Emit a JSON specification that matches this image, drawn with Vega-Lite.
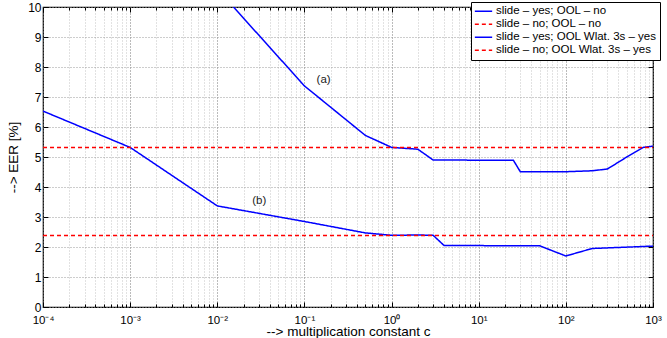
{
  "$schema": "https://vega.github.io/schema/vega-lite/v6.json",
  "width": 610,
  "height": 300,
  "autosize": {"type": "none"},
  "padding": {"left": 43, "top": 7, "right": 14, "bottom": 31},
  "background": "white",
  "config": {
    "view": {"stroke": "black", "strokeWidth": 1.2},
    "font": "Liberation Sans",
    "axis": {"labelFont": "Liberation Sans", "titleFont": "Liberation Sans", "labelColor": "black", "titleColor": "black", "titleFontWeight": "normal", "domain": false, "tickColor": "black", "labelFlush": false, "labelOverlap": false}
  },
  "datasets": {
    "lines": [
      {"series": "slide – yes; OOL – no", "c": 0.01, "eer": 10.6},
      {"series": "slide – yes; OOL – no", "c": 0.1, "eer": 7.37},
      {"series": "slide – yes; OOL – no", "c": 0.5, "eer": 5.72},
      {"series": "slide – yes; OOL – no", "c": 1, "eer": 5.32},
      {"series": "slide – yes; OOL – no", "c": 2, "eer": 5.26},
      {"series": "slide – yes; OOL – no", "c": 3, "eer": 4.9},
      {"series": "slide – yes; OOL – no", "c": 25, "eer": 4.89},
      {"series": "slide – yes; OOL – no", "c": 30, "eer": 4.51},
      {"series": "slide – yes; OOL – no", "c": 100, "eer": 4.51},
      {"series": "slide – yes; OOL – no", "c": 200, "eer": 4.54},
      {"series": "slide – yes; OOL – no", "c": 300, "eer": 4.6},
      {"series": "slide – yes; OOL – no", "c": 500, "eer": 5.0},
      {"series": "slide – yes; OOL – no", "c": 770, "eer": 5.32},
      {"series": "slide – yes; OOL – no", "c": 1000, "eer": 5.36},
      {"series": "slide – yes; OOL Wlat. 3s – yes", "c": 0.0001, "eer": 6.53},
      {"series": "slide – yes; OOL Wlat. 3s – yes", "c": 0.001, "eer": 5.32},
      {"series": "slide – yes; OOL Wlat. 3s – yes", "c": 0.01, "eer": 3.37},
      {"series": "slide – yes; OOL Wlat. 3s – yes", "c": 0.1, "eer": 2.85},
      {"series": "slide – yes; OOL Wlat. 3s – yes", "c": 0.5, "eer": 2.47},
      {"series": "slide – yes; OOL Wlat. 3s – yes", "c": 1, "eer": 2.39},
      {"series": "slide – yes; OOL Wlat. 3s – yes", "c": 2, "eer": 2.4},
      {"series": "slide – yes; OOL Wlat. 3s – yes", "c": 3, "eer": 2.39},
      {"series": "slide – yes; OOL Wlat. 3s – yes", "c": 4, "eer": 2.05},
      {"series": "slide – yes; OOL Wlat. 3s – yes", "c": 50, "eer": 2.04},
      {"series": "slide – yes; OOL Wlat. 3s – yes", "c": 100, "eer": 1.7},
      {"series": "slide – yes; OOL Wlat. 3s – yes", "c": 200, "eer": 1.95},
      {"series": "slide – yes; OOL Wlat. 3s – yes", "c": 1000, "eer": 2.03},
      {"series": "slide – no; OOL – no", "c": 0.0001, "eer": 5.32},
      {"series": "slide – no; OOL – no", "c": 1000, "eer": 5.32},
      {"series": "slide – no; OOL Wlat. 3s – yes", "c": 0.0001, "eer": 2.38},
      {"series": "slide – no; OOL Wlat. 3s – yes", "c": 1000, "eer": 2.38}
    ],
    "labels": [
      {"c": 0.166, "eer": 7.57, "text": "(a)"},
      {"c": 0.0303, "eer": 3.52, "text": "(b)"}
    ]
  },
  "layer": [
    {
      "data": {"name": "lines"},
      "mark": {"type": "line", "clip": true, "strokeWidth": 1.5},
      "encoding": {
        "x": {
          "field": "c", "type": "quantitative",
          "scale": {"type": "log", "domain": [0.0001, 1000], "nice": false},
          "axis": {
            "orient": "bottom",
            "title": "--> multiplication constant c",
            "titleFontSize": 13.5,
            "titlePadding": -3,
            "labelFontSize": 11.5,
            "labelPadding": 12,
            "values": [0.0001,0.0002,0.0003,0.0004,0.0005,0.0006,0.0007,0.0008,0.0009,0.001,0.002,0.003,0.004,0.005,0.006,0.007,0.008,0.009,0.01,0.02,0.03,0.04,0.05,0.06,0.07,0.08,0.09,0.1,0.2,0.3,0.4,0.5,0.6,0.7,0.8,0.9,1,2,3,4,5,6,7,8,9,10,20,30,40,50,60,70,80,90,100,200,300,400,500,600,700,800,900,1000],
            "labelExpr": "indexof([0.0001,0.001,0.01,0.1,1,10,100,1000], datum.value) < 0 ? '' : ['10⁻⁴','10⁻³','10⁻²','10⁻¹','10⁰','10¹','10²','10³'][indexof([0.0001,0.001,0.01,0.1,1,10,100,1000], datum.value)]",
            "tickSize": {"condition": {"test": "indexof([0.0001,0.001,0.01,0.1,1,10,100,1000], datum.value) >= 0", "value": -5}, "value": -3},
            "grid": true,
            "gridDash": [1, 2],
            "gridColor": {"condition": {"test": "indexof([0.0001,0.001,0.01,0.1,1,10,100,1000], datum.value) >= 0", "value": "#777777"}, "value": "#c4c4c4"},
            "gridWidth": 1
          }
        },
        "y": {
          "field": "eer", "type": "quantitative",
          "scale": {"domain": [0, 10], "nice": false, "zero": false},
          "axis": {
            "orient": "left",
            "title": "--> EER [%]",
            "titleFontSize": 13.5,
            "titlePadding": 7,
            "labelFontSize": 12,
            "labelPadding": 7,
            "values": [0,1,2,3,4,5,6,7,8,9,10],
            "tickSize": -5,
            "grid": true,
            "gridDash": [1, 2],
            "gridColor": "#9a9a9a",
            "gridWidth": 1
          }
        },
        "color": {
          "field": "series", "type": "nominal",
          "scale": {
            "domain": ["slide – yes; OOL – no", "slide – no; OOL – no", "slide – yes; OOL Wlat. 3s – yes", "slide – no; OOL Wlat. 3s – yes"],
            "range": ["#0000ff", "#ff0000", "#0000ff", "#ff0000"]
          },
          "legend": {
            "title": null,
            "orient": "none",
            "legendX": 428,
            "legendY": -5,
            "strokeColor": "black",
            "fillColor": "white",
            "padding": 3,
            "cornerRadius": 0,
            "symbolType": "stroke",
            "symbolStrokeWidth": 1.5,
            "symbolSize": 300,
            "clipHeight": 12.5,
            "labelFontSize": 11.5,
            "labelFont": "Liberation Sans",
            "labelColor": "black",
            "labelLimit": 0,
            "labelOffset": 3,
            "rowPadding": 0
          }
        },
        "strokeDash": {
          "field": "series", "type": "nominal",
          "scale": {
            "domain": ["slide – yes; OOL – no", "slide – no; OOL – no", "slide – yes; OOL Wlat. 3s – yes", "slide – no; OOL Wlat. 3s – yes"],
            "range": [[1, 0], [4, 3], [1, 0], [4, 3]]
          },
          "legend": null
        }
      }
    },
    {
      "data": {"name": "labels"},
      "mark": {"type": "text", "fontSize": 11.5, "color": "#222222", "font": "Liberation Sans"},
      "encoding": {
        "x": {
          "field": "c", "type": "quantitative",
          "scale": {"type": "log", "domain": [0.0001, 1000], "nice": false},
          "axis": {
            "orient": "top", "title": null, "labels": false, "grid": false,
            "values": [0.0001,0.0002,0.0003,0.0004,0.0005,0.0006,0.0007,0.0008,0.0009,0.001,0.002,0.003,0.004,0.005,0.006,0.007,0.008,0.009,0.01,0.02,0.03,0.04,0.05,0.06,0.07,0.08,0.09,0.1,0.2,0.3,0.4,0.5,0.6,0.7,0.8,0.9,1,2,3,4,5,6,7,8,9,10,20,30,40,50,60,70,80,90,100,200,300,400,500,600,700,800,900,1000],
            "tickSize": {"condition": {"test": "indexof([0.0001,0.001,0.01,0.1,1,10,100,1000], datum.value) >= 0", "value": -5}, "value": -3}
          }
        },
        "y": {
          "field": "eer", "type": "quantitative",
          "scale": {"domain": [0, 10], "nice": false, "zero": false},
          "axis": {
            "orient": "right", "title": null, "labels": false, "grid": false,
            "values": [0,1,2,3,4,5,6,7,8,9,10],
            "tickSize": -5
          }
        },
        "text": {"field": "text", "type": "nominal"}
      }
    }
  ],
  "resolve": {"axis": {"x": "independent", "y": "independent"}}
}
